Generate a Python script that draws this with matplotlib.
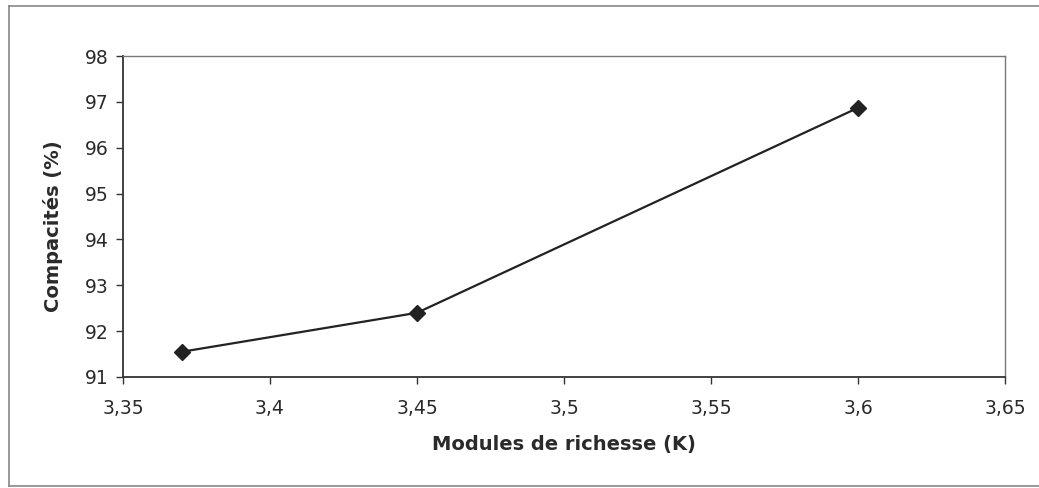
import matplotlib
matplotlib.use("Agg")
import matplotlib.pyplot as plt
from matplotlib.lines import Line2D
from matplotlib.ticker import FuncFormatter

# data
modules = [3.37, 3.45, 3.60]
compacites = [91.55, 92.40, 96.87]
xticks = [3.35, 3.40, 3.45, 3.50, 3.55, 3.60, 3.65]
yticks = [91, 92, 93, 94, 95, 96, 97, 98]

plt.rcParams["font.family"] = ["DejaVu Sans"]

fig = plt.figure(figsize=(10.39, 4.88), dpi=100)
ax = fig.add_axes([123 / 1039, 1 - 377 / 488, 882 / 1039, 321 / 488])

ax.plot(modules, compacites, "-", color="#222222", lw=1.6,
        marker="D", ms=8, mfc="#222222", mec="#222222")

ax.set_xlim(3.35, 3.65)
ax.set_ylim(91, 98)
ax.set_xticks(xticks)
ax.set_yticks(yticks)
ax.xaxis.set_major_formatter(FuncFormatter(lambda v, p: f"{v:g}".replace(".", ",")))
ax.tick_params(direction="out", length=5, width=1, colors="#333333",
               labelsize=13.5, labelcolor="#2a2a2a")
ax.tick_params(axis="x", pad=11)
ax.tick_params(axis="y", pad=5)

for side in ("left", "bottom"):
    ax.spines[side].set_color("#333333")
    ax.spines[side].set_linewidth(1.3)
for side in ("top", "right"):
    ax.spines[side].set_color("#777777")
    ax.spines[side].set_linewidth(1.0)

ax.set_xlabel("Modules de richesse (K)", fontsize=14, fontweight="bold",
              color="#2a2a2a", labelpad=12)
ax.set_ylabel("Compacités (%)", fontsize=14, fontweight="bold",
              color="#2a2a2a", labelpad=10)
ax.yaxis.set_label_coords(-0.068, 0.47)

# outer chart-area border (right edge runs off the scan)
x0, y0, y1 = 9 / 1039, 2 / 488, 1 - 6 / 488
kw = dict(color="#888888", lw=1.2, transform=fig.transFigure)
fig.add_artist(Line2D([x0, 1.0], [y1, y1], **kw))
fig.add_artist(Line2D([x0, x0], [y0, y1], **kw))
fig.add_artist(Line2D([x0, 1.0], [y0, y0], **kw))

fig.savefig("out.png", dpi=100)
